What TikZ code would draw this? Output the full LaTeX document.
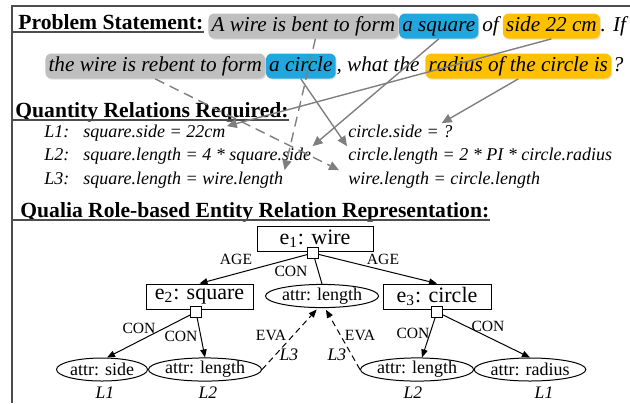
\documentclass[tikz,border=0pt]{standalone}
\usepackage{fontspec}
\setmainfont{Liberation Serif}
\usetikzlibrary{arrows.meta,positioning,shapes.geometric,shadows}
\definecolor{hlGray}{HTML}{BFBFBF}
\definecolor{hlBlue}{HTML}{22A6DE}
\definecolor{hlGold}{HTML}{FFC000}
\definecolor{linkCol}{HTML}{7F7F7F}
\definecolor{ruleCol}{HTML}{4D4D4D}
\tikzset{
  hdr/.style={font=\fontsize{10.8}{13}\selectfont\bfseries, inner sep=0pt, anchor=base west},
  ptxt/.style={font=\fontsize{10.6}{13}\selectfont\itshape, inner xsep=1.6pt, inner ysep=1pt,
        text height=8pt, text depth=2.5pt},
  hl/.style={ptxt, fill=#1, rounded corners=3pt,
        drop shadow={shadow xshift=0.5pt, shadow yshift=-0.6pt, opacity=0.25}},
  rel/.style={font=\fontsize{9}{11}\selectfont\itshape, inner sep=0.5pt, anchor=base west},
  ent/.style={draw, line width=0.5pt, font=\fontsize{11}{13}\selectfont,
        minimum width=#1, minimum height=12.5pt, inner sep=0pt},
  attr/.style={draw, ellipse, line width=0.5pt, font=\fontsize{9}{11}\selectfont,
        minimum width=#1, minimum height=11.5pt, inner sep=0pt},
  dot/.style={draw, fill=white, line width=0.5pt, minimum size=5.5pt, inner sep=0pt},
  elab/.style={font=\fontsize{7.8}{9}\selectfont, inner sep=0pt},
  llab/.style={font=\fontsize{8.8}{10}\selectfont\itshape, inner sep=0pt},
  link/.style={draw=linkCol, line width=0.7pt, -{Triangle[length=5pt,width=4.5pt]}, linkCol},
  linkd/.style={link, dash pattern=on 5pt off 3pt},
  e/.style={-{Triangle[length=4pt,width=3.2pt]}, line width=0.5pt},
  ed/.style={e, dash pattern=on 3pt off 2pt},
  rule/.style={draw=ruleCol, line width=0.6pt},
}
\begin{document}
\begin{tikzpicture}[x=0.5pt, y=-0.5pt, node distance=0pt]
  \useasboundingbox (0,0) rectangle (630,403);
  % frame
  \coordinate (fl) at (12,6);
  \draw[rule] (630,6) -- (fl) -- (12,403);
  % problem statement
  \node[hdr] (hd1) at (18,29) {Problem Statement:};
  \draw[rule] ([yshift=-1.5pt]fl |- hd1.base) -- ([yshift=-1.5pt]hd1.base east);
  \node[hl=hlGray, anchor=west] (ps1) at (208,26) {A wire is bent to form};
  \node[hl=hlBlue, right=of ps1] (ps2) {a square};
  \node[ptxt, right=of ps2] (ps3) {of};
  \node[hl=hlGold, right=of ps3] (ps4) {side 22 cm};
  \node[ptxt, right=of ps4, inner xsep=0pt] (ps5) {. If};
  \node[hl=hlGray, anchor=west] (ps6) at (45,66) {the wire is rebent to form};
  \node[hl=hlBlue, right=of ps6] (ps7) {a circle};
  \node[ptxt, right=of ps7, inner xsep=0pt] (ps8) {, what the};
  \node[hl=hlGold, right=2.5pt of ps8] (ps9) {radius of the circle is};
  \node[ptxt, right=of ps9, inner xsep=0.5pt] (ps10) {?};
  % quantity relations
  \node[hdr] (hd2) at (15,117) {Quantity Relations Required:};
  \draw[rule] ([yshift=-1.5pt]fl |- hd2.base) -- ([yshift=-1.5pt]hd2.base east);
  \node[rel] (l1) at (43,137) {L1:};
  \node[rel] (l2) at (43,160) {L2:};
  \node[rel] (l3) at (43,184) {L3:};
  \node[rel] (r1a) at (82,137) {square.side = 22cm};
  \node[rel] (r2a) at (82,160) {square.length = 4 * square.side};
  \node[rel] (r3a) at (82,184) {square.length = wire.length};
  \node[rel] (r1b) at (347,137) {circle.side = ?};
  \node[rel] (r2b) at (347,160) {circle.length = 2 * PI * circle.radius};
  \node[rel] (r3b) at (347,184) {wire.length = circle.length};
  % links text -> relations
  \draw[linkd] ([xshift=6pt]ps1.south) -- (r3a.north east);
  \draw[link] (ps2.south) -- (r2a.north east);
  \draw[link] (ps4.south) -- ([yshift=-1.5pt]r1a.north east);
  \draw[linkd] (ps6.south) -- ([xshift=-4pt]r3b.north west);
  \draw[link] (ps7.south) -- (r2b.north west);
  \draw[link] (ps9.south) -- ([xshift=-6pt]r1b.north east);
  % qualia representation
  \node[hdr] (hd3) at (20,217) {Qualia Role-based Entity Relation Representation:};
  \draw[rule] ([yshift=-1.5pt]fl |- hd3.base) -- ([yshift=-1.5pt]hd3.base east);
  \node[ent=58pt] (e1) at (315,239) {e\textsubscript{1}: wire};
  \node[ent=53.5pt] (e2) at (199.5,296.5) {e\textsubscript{2}: square};
  \node[ent=54pt] (e3) at (437,296.5) {e\textsubscript{3}: circle};
  \node[attr=55pt] (len1) at (322,296) {attr: length};
  \node[attr=45.5pt] (side) at (102,369.5) {attr: side};
  \node[attr=55pt] (len2) at (205,369.5) {attr: length};
  \node[attr=54.5pt] (len3) at (417,369.5) {attr: length};
  \node[attr=54.5pt] (rad) at (530,369.5) {attr: radius};
  \node[dot] (d1) at (313,253) {};
  \node[dot] (d2) at (196,312) {};
  \node[dot] (d3) at (437,312) {};
  \draw[e] (d1) -- (e2.north);
  \draw[e] (d1) -- (e3.north);
  \draw[line width=0.5pt] (d1) -- (len1.north);
  \draw[e] (d2) -- ([xshift=2.5pt]side.north);
  \draw[e] (d2) -- (len2.north);
  \draw[e] (d3) -- ([xshift=2.5pt]len3.north);
  \draw[e] (d3) -- (rad.north);
  \draw[ed, shorten >=1pt] (len2.east) -- ([xshift=-2pt]len1.south);
  \draw[ed, shorten >=1pt] (len3.west) -- ([xshift=1.5pt]len1.south);
  % edge labels
  \node[elab] (age1) at (236,259) {AGE};
  \node[elab] (age2) at (383,259) {AGE};
  \node[elab] (con1) at (291,271) {CON};
  \node[elab] (con2) at (139,328) {CON};
  \node[elab] (con3) at (181,336) {CON};
  \node[elab] (con4) at (413,333) {CON};
  \node[elab] (con5) at (488,326) {CON};
  \node[elab] (eva1) at (271,335) {EVA};
  \node[elab] (eva2) at (360,335) {EVA};
  \node[llab] (l3a) at (289,355) {L3};
  \node[llab] (l3b) at (337,355) {L3};
  \node[llab] (lb1) at (105,393) {L1};
  \node[llab] (lb2) at (208,393) {L2};
  \node[llab] (lb3) at (413,393) {L2};
  \node[llab] (lb4) at (544,393) {L1};
\end{tikzpicture}
\end{document}
